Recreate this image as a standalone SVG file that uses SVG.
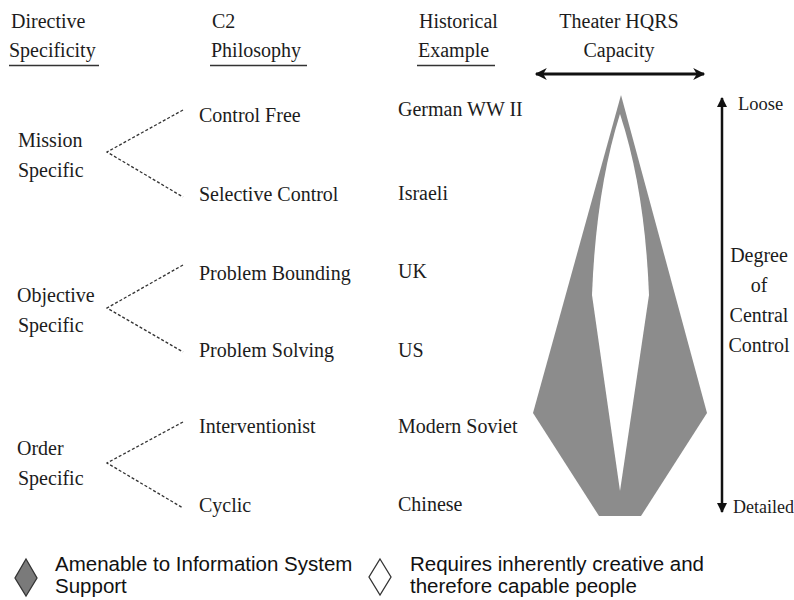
<svg xmlns="http://www.w3.org/2000/svg" width="794" height="600" viewBox="0 0 794 600">
  <defs>
    <style>
      .t { font-family: "Liberation Serif", "Times New Roman", serif; font-size: 20px; fill: #1c1c1c; }
      .sm { font-size: 18.5px; }
      .xs { font-size: 18px; }
      .mid { text-anchor: middle; }
      .lg { font-family: "Liberation Sans", Arial, sans-serif; font-size: 20.5px; fill: #111; }
      .ul { stroke: #333; stroke-width: 1.4; }
      .dash { stroke: #333; stroke-width: 1.3; stroke-dasharray: 3 2; fill: none; }
      .axis { stroke: #111; fill: none; }
    </style>
    <marker id="headH" viewBox="0 0 10 10" refX="9" refY="5" markerWidth="5" markerHeight="4" markerUnits="strokeWidth" orient="auto-start-reverse">
      <path d="M0,0 L10,5 L0,10 L3,5 Z" fill="#111"/>
    </marker>
    <marker id="headV" viewBox="0 0 10 10" refX="9" refY="5" markerWidth="6" markerHeight="4" markerUnits="strokeWidth" orient="auto-start-reverse">
      <path d="M0,0 L10,5 L0,10 Z" fill="#111"/>
    </marker>
  </defs>

  <rect width="794" height="600" fill="#ffffff"/>

  <!-- column headings -->
  <g id="head-directive">
    <text class="t" x="11" y="28">Directive</text>
    <text class="t" x="9" y="57">Specificity</text>
    <line class="ul" x1="9" y1="65.5" x2="99" y2="65.5"/>
  </g>
  <g id="head-c2">
    <text class="t" x="212" y="28">C2</text>
    <text class="t" x="211" y="57">Philosophy</text>
    <line class="ul" x1="210" y1="65.5" x2="307" y2="65.5"/>
  </g>
  <g id="head-historical">
    <text class="t" x="419" y="28">Historical</text>
    <text class="t" x="418" y="57">Example</text>
    <line class="ul" x1="417" y1="65.5" x2="495" y2="65.5"/>
  </g>
  <g id="head-capacity">
    <text class="t mid" x="619" y="28">Theater HQRS</text>
    <text class="t mid" x="619" y="57">Capacity</text>
  </g>

  <!-- directive specificity levels -->
  <g id="mission">
    <text class="t" x="18" y="147">Mission</text>
    <text class="t" x="18" y="177">Specific</text>
  </g>
  <g id="objective">
    <text class="t" x="17" y="302">Objective</text>
    <text class="t" x="18" y="332">Specific</text>
  </g>
  <g id="order">
    <text class="t" x="17" y="455">Order</text>
    <text class="t" x="18" y="485">Specific</text>
  </g>

  <!-- C2 philosophies -->
  <g id="control-free"><text class="t" x="199" y="122">Control Free</text></g>
  <g id="selective-control"><text class="t" x="199" y="201">Selective Control</text></g>
  <g id="problem-bounding"><text class="t" x="199" y="280">Problem Bounding</text></g>
  <g id="problem-solving"><text class="t" x="199" y="357">Problem Solving</text></g>
  <g id="interventionist"><text class="t" x="199" y="433">Interventionist</text></g>
  <g id="cyclic"><text class="t" x="199" y="512">Cyclic</text></g>

  <!-- historical examples -->
  <g id="german"><text class="t" x="398" y="116">German WW II</text></g>
  <g id="israeli"><text class="t" x="398" y="200">Israeli</text></g>
  <g id="uk"><text class="t" x="398" y="278">UK</text></g>
  <g id="us"><text class="t" x="398" y="357">US</text></g>
  <g id="soviet"><text class="t" x="398" y="433">Modern Soviet</text></g>
  <g id="chinese"><text class="t" x="398" y="511">Chinese</text></g>

  <!-- dashed branch connectors -->
  <g id="connectors">
    <polyline class="dash" points="183,110 107,152 183,197"/>
    <polyline class="dash" points="183,265 107,308 183,352"/>
    <polyline class="dash" points="183,422 107,463 183,508"/>
  </g>

  <!-- capacity shape: grey outer kite with white creative core -->
  <g id="capacity-shape">
    <path d="M621,95 L707,413 L641,516 L599,516 L533,413 Z" fill="#8c8c8c"/>
    <path d="M620,114 Q596,190 592,295 L620,491 L649,295 Q645,190 620,114 Z" fill="#ffffff"/>
  </g>

  <!-- capacity axis -->
  <g id="capacity-axis">
    <line class="axis" x1="536" y1="74" x2="704" y2="74" stroke-width="3" marker-start="url(#headH)" marker-end="url(#headH)"/>
  </g>

  <!-- degree of central control axis -->
  <g id="control-axis">
    <line class="axis" x1="722" y1="98" x2="722" y2="512" stroke-width="2.5" marker-start="url(#headV)" marker-end="url(#headV)"/>
    <text class="t sm" x="738" y="110">Loose</text>
    <text class="t xs" x="733" y="513">Detailed</text>
    <text class="t mid" x="759" y="262">Degree</text>
    <text class="t mid" x="759" y="292">of</text>
    <text class="t mid" x="759" y="322">Central</text>
    <text class="t mid" x="759" y="352">Control</text>
  </g>

  <!-- legend -->
  <g id="legend-system">
    <path d="M26,559 L37,578 L26,596 L15,578 Z" fill="#7a7a7a" stroke="#333" stroke-width="1.3"/>
    <text class="lg" x="55" y="571">Amenable to Information System</text>
    <text class="lg" x="55" y="593">Support</text>
  </g>
  <g id="legend-people">
    <path d="M380,559 L391,577 L380,595 L369,577 Z" fill="#ffffff" stroke="#333" stroke-width="1.3"/>
    <text class="lg" x="410" y="571">Requires inherently creative and</text>
    <text class="lg" x="410" y="593">therefore capable people</text>
  </g>
</svg>
